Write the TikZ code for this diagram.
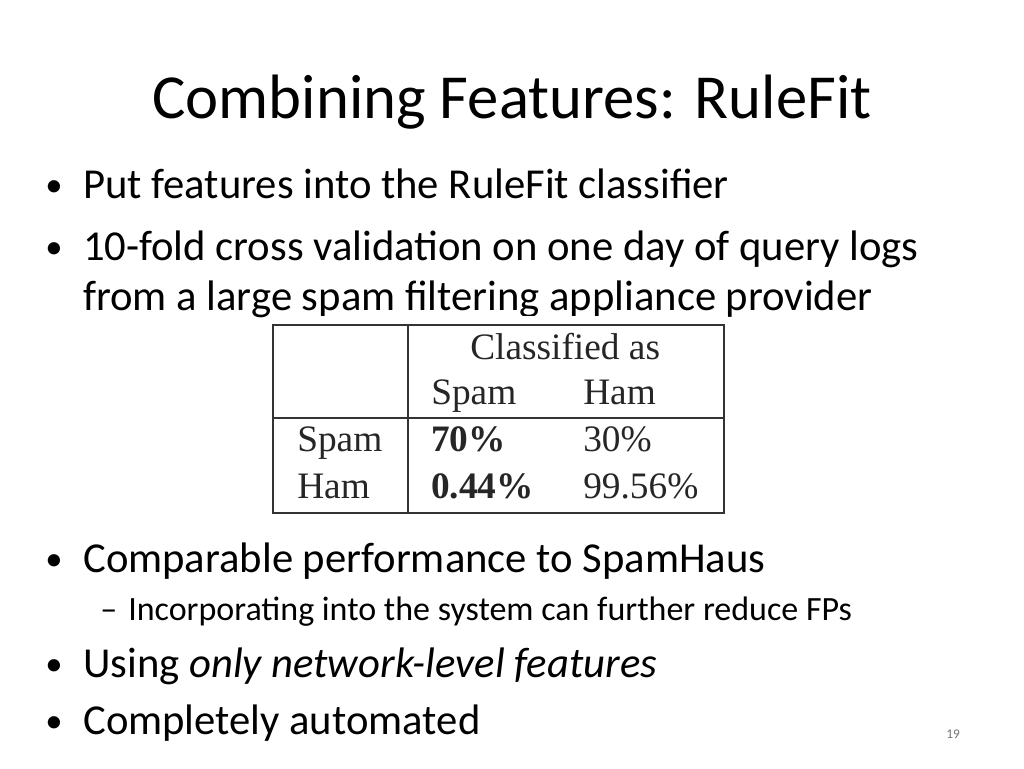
\documentclass[tikz,border=0pt]{standalone}
\usepackage{fontspec}
\setmainfont{Carlito}
\newfontfamily\tabfont{Liberation Serif}
\begin{document}
\begin{tikzpicture}[x=0.75pt,y=-0.75pt,
  txt/.style={anchor=base west,inner sep=0pt,font=\fontsize{32}{38}\selectfont},
  sub/.style={anchor=base west,inner sep=0pt,font=\fontsize{25.5}{30}\selectfont},
  bul/.style={anchor=base west,inner sep=0pt,font=\fontsize{26}{30}\selectfont},
  tab/.style={anchor=base west,inner sep=0pt,font=\tabfont\fontsize{28}{32}\selectfont,text=black!85}]
\useasboundingbox (0,0) rectangle (1024,768);
\node[anchor=base,inner sep=0pt,font=\fontsize{47}{56}\selectfont] (title) at (512,118) {Combining Features: RuleFit};
\node[bul] (b1) at (45,196) {•}; \node[txt] (t1) at (83,198) {Put features into the RuleFit classifier};
\node[bul] (b2) at (45,258) {•}; \node[txt] (t2) at (83,260) {10-fold cross validation on one day of query logs};
\node[txt] (t3) at (83,310) {from a large spam filtering appliance provider};
\fill[white] (270,316) rectangle (728,516);
\draw[line width=1.1pt,black!80] (273,325) rectangle (724,513);
\draw[line width=1.1pt,black!80] (408,325) -- (408,513);
\draw[line width=1.1pt,black!80] (273,418) -- (724,418);
\node[tab] (c1) at (470,359) {Classified as};
\node[tab] (c2) at (431,404) {Spam};
\node[tab] (c3) at (583,404) {Ham};
\node[tab] (r1) at (297,451) {Spam};
\node[tab] (r2) at (297,498) {Ham};
\node[tab] (v1) at (431,451) {\bfseries 70\%};
\node[tab] (v2) at (583,451) {30\%};
\node[tab] (v3) at (431,498) {\bfseries 0.44\%};
\node[tab] (v4) at (583,498) {99.56\%};
\node[bul] (b3) at (45,570) {•}; \node[txt] (t4) at (83,572) {Comparable performance to SpamHaus};
\node[sub] (d1) at (100,620) {–}; \node[sub] (t5) at (128,620) {Incorporating into the system can further reduce FPs};
\node[bul] (b4) at (45,675) {•}; \node[txt] (t6) at (83,677) {Using \textit{only network-level features}};
\node[bul] (b5) at (45,732) {•}; \node[txt] (t7) at (83,734) {Completely automated};
\node[anchor=base,inner sep=0pt,font=\fontsize{10}{12}\selectfont,text=black!55] (pg) at (953,738) {19};
\end{tikzpicture}
\end{document}
